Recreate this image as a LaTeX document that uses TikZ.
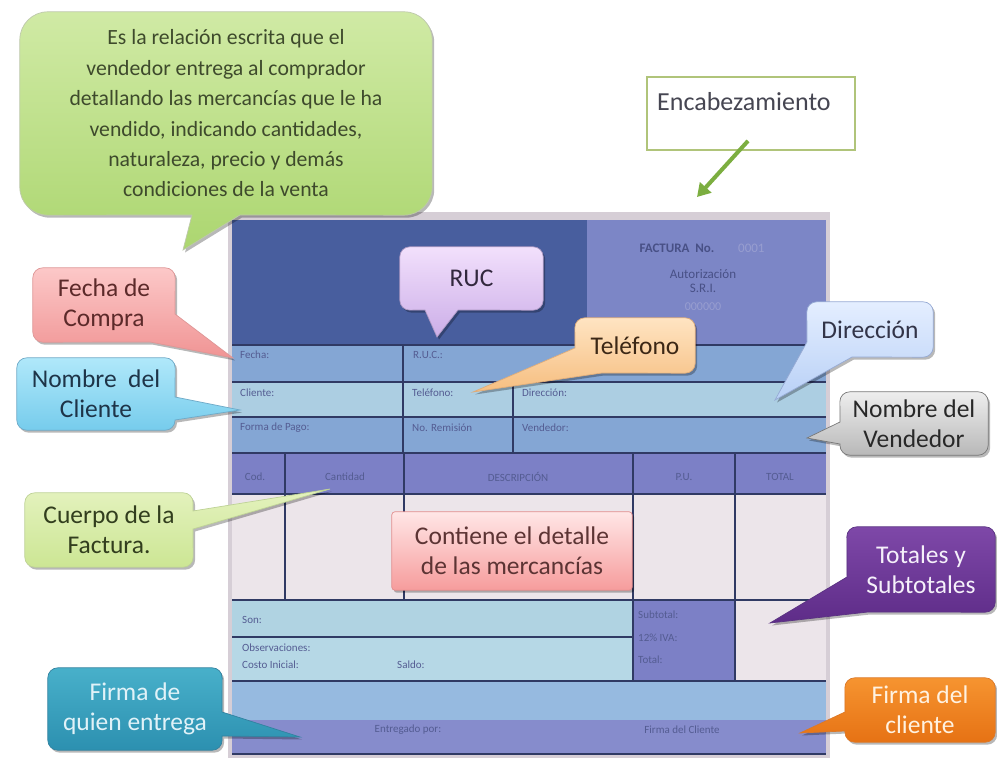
\documentclass[tikz,border=0pt]{standalone}
\usepackage{fontspec}
\setmainfont{Carlito}
\usetikzlibrary{calc,shadows,arrows.meta}
\pgfdeclarelayer{formlayer}
\pgfdeclarelayer{shapelayer}
\pgfsetlayers{formlayer,shapelayer,main}
% form colours
\definecolor{frame}{RGB}{214,206,214}
\definecolor{hdark}{RGB}{72,94,158}
\definecolor{hright}{RGB}{124,134,198}
\definecolor{rowA}{RGB}{132,166,212}
\definecolor{rowB}{RGB}{172,206,226}
\definecolor{thead}{RGB}{124,128,198}
\definecolor{bodyc}{RGB}{236,229,234}
\definecolor{sonc}{RGB}{176,211,226}
\definecolor{obsc}{RGB}{182,216,230}
\definecolor{bandc}{RGB}{150,186,224}
\definecolor{botc}{RGB}{134,140,204}
\definecolor{fln}{RGB}{48,58,100}
\definecolor{ftx}{RGB}{84,92,146}
\definecolor{hft}{RGB}{72,80,134}
\definecolor{hfl}{RGB}{152,158,208}
% callout colours
\definecolor{grT}{RGB}{208,234,165}\definecolor{grB}{RGB}{172,214,112}\definecolor{grD}{RGB}{190,200,172}\definecolor{grX}{RGB}{62,74,44}
\definecolor{rucT}{RGB}{242,224,252}\definecolor{rucB}{RGB}{204,174,232}\definecolor{rucD}{RGB}{172,152,194}\definecolor{rucX}{RGB}{50,40,62}
\definecolor{telT}{RGB}{255,228,194}\definecolor{telB}{RGB}{246,190,128}\definecolor{telD}{RGB}{222,172,122}\definecolor{telX}{RGB}{60,40,22}
\definecolor{dirT}{RGB}{228,238,255}\definecolor{dirB}{RGB}{184,208,246}\definecolor{dirD}{RGB}{150,170,212}\definecolor{dirX}{RGB}{50,52,72}
\definecolor{venT}{RGB}{238,238,238}\definecolor{venB}{RGB}{184,184,184}\definecolor{venD}{RGB}{120,120,120}\definecolor{venX}{RGB}{40,40,40}
\definecolor{fecT}{RGB}{252,200,200}\definecolor{fecB}{RGB}{240,148,148}\definecolor{fecD}{RGB}{222,150,150}\definecolor{fecX}{RGB}{92,42,42}
\definecolor{cliT}{RGB}{176,232,250}\definecolor{cliB}{RGB}{118,204,236}\definecolor{cliD}{RGB}{110,170,200}\definecolor{cliX}{RGB}{30,52,72}
\definecolor{cueT}{RGB}{228,242,190}\definecolor{cueB}{RGB}{204,230,148}\definecolor{cueD}{RGB}{190,210,150}\definecolor{cueX}{RGB}{50,62,30}
\definecolor{conT}{RGB}{255,230,230}\definecolor{conB}{RGB}{246,156,156}\definecolor{conD}{RGB}{226,140,140}\definecolor{conX}{RGB}{92,52,52}
\definecolor{totT}{RGB}{126,72,168}\definecolor{totB}{RGB}{94,44,136}\definecolor{totD}{RGB}{90,50,130}\definecolor{totX}{RGB}{245,240,250}
\definecolor{fclT}{RGB}{246,148,48}\definecolor{fclB}{RGB}{230,114,20}\definecolor{fclD}{RGB}{220,120,40}\definecolor{fclX}{RGB}{255,242,225}
\definecolor{fenT}{RGB}{72,176,202}\definecolor{fenB}{RGB}{44,144,176}\definecolor{fenD}{RGB}{50,130,160}\definecolor{fenX}{RGB}{225,242,248}
\definecolor{encD}{RGB}{176,196,122}
\definecolor{encA}{RGB}{124,174,64}
\definecolor{encX}{RGB}{70,70,82}
\begin{document}
\begin{tikzpicture}[x=1pt,y=-1pt,
  ctext/.style={inner sep=0pt, align=center, font=\fontsize{25.5}{30}\selectfont},
  cshape/.style={line width=0.7pt, rounded corners=10pt,
     drop shadow={shadow xshift=2pt,shadow yshift=-2.5pt,opacity=0.28,fill=black}},
  ftext/.style={inner sep=0pt, font=\fontsize{11}{12}\selectfont, text=ftx},
  fline/.style={draw=fln, line width=1.1pt}]
\useasboundingbox (0,0) rectangle (997,760);

% ---------------- the invoice form ----------------
\begin{pgfonlayer}{formlayer}
\fill[white] (0,0) rectangle (997,760);
\fill[frame] (228,212) rectangle (830,758);
\fill[hdark] (232,220) rectangle (587,345);
\fill[hright] (587,220) rectangle (826,345);
\fill[rowA] (232,345) rectangle (826,382);
\fill[rowB] (232,382) rectangle (826,417);
\fill[rowA] (232,417) rectangle (826,453);
\fill[thead] (232,453) rectangle (826,494);
\fill[bodyc] (232,494) rectangle (826,600);
\fill[sonc] (232,600) rectangle (633,637);
\fill[obsc] (232,637) rectangle (633,681);
\fill[thead] (633,600) rectangle (735,681);
\fill[bodyc] (735,600) rectangle (826,681);
\fill[bandc] (232,681) rectangle (826,720);
\fill[botc] (232,720) rectangle (826,754);
% grid lines
\draw[fline] (232,345) -- (826,345);
\draw[fline] (232,382) -- (826,382);
\draw[fline] (232,417) -- (826,417);
\draw[fline] (232,453) -- (826,453);
\draw[fline] (232,494) -- (826,494);
\draw[fline] (232,600) -- (826,600);
\draw[fline] (232,637) -- (633,637);
\draw[fline] (232,681) -- (826,681);
\draw[fline] (232,754) -- (826,754);
\draw[fline] (403,345) -- (403,453);
\draw[fline] (513,382) -- (513,453);
\draw[fline] (285,453) -- (285,600);
\draw[fline] (404,453) -- (404,600);
\draw[fline] (633,453) -- (633,681);
\draw[fline] (735,453) -- (735,681);
% header texts
\node[inner sep=0pt, font=\fontsize{13}{14}\selectfont\bfseries, text=hft] (hfac) at (677,248) {FACTURA\ \ No.};
\node[inner sep=0pt, font=\fontsize{13}{14}\selectfont, text=hfl, anchor=west] (hnum) at (738,248) {0001};
\node[inner sep=0pt, font=\fontsize{13}{14}\selectfont, text=hft] (haut) at (703,274) {Autorización};
\node[inner sep=0pt, font=\fontsize{13}{14}\selectfont, text=hft] (hsri) at (703,288) {S.R.I.};
\node[inner sep=0pt, font=\fontsize{12}{14}\selectfont, text=hfl] (hnro) at (703,307) {000000};
% field texts
\node[ftext, anchor=west] (tfecha) at (240,355) {Fecha:};
\node[ftext, anchor=west] (truc) at (413,355) {R.U.C.:};
\node[ftext, anchor=west] (tclien) at (240,393) {Cliente:};
\node[ftext, anchor=west] (ttelf) at (412,393) {Teléfono:};
\node[ftext, anchor=west] (tdirec) at (522,393) {Dirección:};
\node[ftext, anchor=west] (tforma) at (240,428) {Forma de Pago:};
\node[ftext, anchor=west] (tremi) at (412,428) {No. Remisión};
\node[ftext, anchor=west] (tvend) at (522,428) {Vendedor:};
\node[ftext] (tcod) at (255,477) {Cod.};
\node[ftext] (tcant) at (345,477) {Cantidad};
\node[ftext] (tdesc) at (518,477) {DESCRIPCIÓN};
\node[ftext] (tpu) at (684,477) {P.U.};
\node[ftext] (ttot) at (780,477) {TOTAL};
\node[ftext, anchor=west] (tson) at (242,620) {Son:};
\node[ftext, anchor=west] (tobs) at (242,648) {Observaciones:};
\node[ftext, anchor=west] (tcosto) at (242,665) {Costo Inicial:};
\node[ftext, anchor=west] (tsaldo) at (397,665) {Saldo:};
\node[ftext, anchor=west] (tsub) at (638,615) {Subtotal:};
\node[ftext, anchor=west] (tiva) at (638,638) {12\% IVA:};
\node[ftext, anchor=west] (ttotal) at (638,660) {Total:};
\node[ftext] (tentr) at (408,730) {Entregado por:};
\node[ftext] (tfirm) at (682,730) {Firma del Cliente};
\end{pgfonlayer}

% ---------------- Encabezamiento ----------------
\node[draw=encD, line width=1.8pt, fill=white, minimum width=208pt, minimum height=73pt, inner sep=0pt] (enc) at (751,113.5) {};
\node[anchor=west, inner sep=0pt, font=\fontsize{26}{28}\selectfont, text=encX] (enct) at (657,102) {Encabezamiento};
\coordinate (encS) at ($(enc.south)+(-3,-10)$);
\coordinate (encE) at (697,197);
\draw[line width=4pt, draw=encA, -{Triangle[length=13pt,width=15pt]}] (encS) -- (encE);

% ---------------- callout texts ----------------
\node[ctext, minimum width=412pt, minimum height=203pt, text=grX, font=\fontsize{21.7}{30.4}\selectfont] (gr) at (226,113.5)
  {Es la relación escrita que el\\vendedor entrega al comprador\\detallando las mercancías que le ha\\vendido, indicando cantidades,\\naturaleza, precio y demás\\condiciones de la venta};
\node[ctext, minimum width=143pt, minimum height=63pt, text=rucX] (ruc) at (471.5,278.5) {RUC};
\node[ctext, minimum width=120pt, minimum height=55pt, text=telX] (tel) at (635,345.5) {Teléfono};
\node[ctext, minimum width=126pt, minimum height=55pt, text=dirX] (dir) at (870,329.5) {Dirección};
\node[ctext, minimum width=148pt, minimum height=63pt, text=venX] (ven) at (914,423.5) {Nombre del\\Vendedor};
\node[ctext, minimum width=142pt, minimum height=74pt, text=fecX] (fec) at (104,305) {Fecha de\\Compra};
\node[ctext, minimum width=158pt, minimum height=72pt, text=cliX] (cli) at (96,394) {Nombre\ \ del\\Cliente};
\node[ctext, minimum width=168pt, minimum height=74pt, text=cueX] (cue) at (109,530) {Cuerpo de la\\Factura.};
\node[ctext, minimum width=240pt, minimum height=78pt, text=conX] (con) at (512,551) {Contiene el detalle\\de las mercancías};
\node[ctext, minimum width=148pt, minimum height=85pt, text=totX] (tot) at (921,569.5) {Totales y\\Subtotales};
\node[ctext, minimum width=150pt, minimum height=64pt, text=fclX] (fcl) at (920,710) {Firma del\\cliente};
\node[ctext, minimum width=174pt, minimum height=82pt, text=fenX] (fen) at (135,709) {Firma de\\quien entrega};

% pointer tips
\coordinate (tgr) at (183,250);
\coordinate (truc) at (437,337);
\coordinate (ttel) at (473,392);
\coordinate (tdir) at (775,400);
\coordinate (tven) at (807,438);
\coordinate (tfec) at (233,358);
\coordinate (tcli) at (240,410);
\coordinate (tcue) at (330,489);
\coordinate (ttot) at (770,623);
\coordinate (tfcl) at (800,733);
\coordinate (tfen) at (300,737);

% ---------------- callout shapes ----------------
\begin{pgfonlayer}{shapelayer}
\path[cshape, rounded corners=28pt, top color=grT, bottom color=grB, draw=grD]
  (gr.north west) -- (gr.north east) -- (gr.south east) [sharp corners] -- (240,215) -- (tgr) -- (192,215) [rounded corners=28pt] -- (gr.south west) -- cycle;
\path[cshape, top color=rucT, bottom color=rucB, draw=rucD]
  (ruc.north west) -- (ruc.north east) -- (ruc.south east) [sharp corners] -- (458,310) -- (truc) -- (425,310) [rounded corners=10pt] -- (ruc.south west) -- cycle;
\path[cshape, top color=telT, bottom color=telB, draw=telD]
  (tel.north west) -- (tel.north east) -- (tel.south east) [sharp corners] -- (602,373) -- (ttel) -- (575,348) [rounded corners=10pt] -- cycle;
\path[cshape, top color=dirT, bottom color=dirB, draw=dirD]
  (dir.north west) -- (dir.north east) -- (dir.south east) [sharp corners] -- (852,357) -- (tdir) -- (807,342) [rounded corners=10pt] -- cycle;
\path[cshape, top color=venT, bottom color=venB, draw=venD]
  (ven.north west) -- (ven.north east) -- (ven.south east) -- (ven.south west) [sharp corners] -- (840,444) -- (tven) -- (840,422) [rounded corners=10pt] -- cycle;
\path[cshape, top color=fecT, bottom color=fecB, draw=fecD]
  (fec.north west) -- (fec.north east) [sharp corners] -- (175,314) -- (tfec) -- (150,342) [rounded corners=10pt] -- (fec.south west) -- cycle;
\path[cshape, top color=cliT, bottom color=cliB, draw=cliD]
  (cli.north west) -- (cli.north east) [sharp corners] -- (175,397) -- (tcli) -- (175,420) [rounded corners=10pt] -- (cli.south east) -- (cli.south west) -- cycle;
\path[cshape, top color=cueT, bottom color=cueB, draw=cueD]
  (cue.north west) -- (cue.north east) [sharp corners] -- (193,511) -- (tcue) -- (193,529) [rounded corners=10pt] -- (cue.south east) -- (cue.south west) -- cycle;
\path[cshape, rounded corners=3pt, top color=conT, bottom color=conB, draw=conD]
  (con.north west) rectangle (con.south east);
\path[cshape, top color=totT, bottom color=totB, draw=totD]
  (tot.north west) -- (tot.north east) -- (tot.south east) [sharp corners] -- (868,612) -- (ttot) -- (847,577) [rounded corners=10pt] -- cycle;
\path[cshape, top color=fclT, bottom color=fclB, draw=fclD]
  (fcl.north west) -- (fcl.north east) -- (fcl.south east) -- (fcl.south west) [sharp corners] -- (845,731) -- (tfcl) -- (845,712) [rounded corners=10pt] -- cycle;
\path[cshape, top color=fenT, bottom color=fenB, draw=fenD]
  (fen.north west) -- (fen.north east) [sharp corners] -- (222,712) -- (tfen) -- (222,736) [rounded corners=10pt] -- (fen.south east) -- (fen.south west) -- cycle;
\end{pgfonlayer}
\end{tikzpicture}
\end{document}
